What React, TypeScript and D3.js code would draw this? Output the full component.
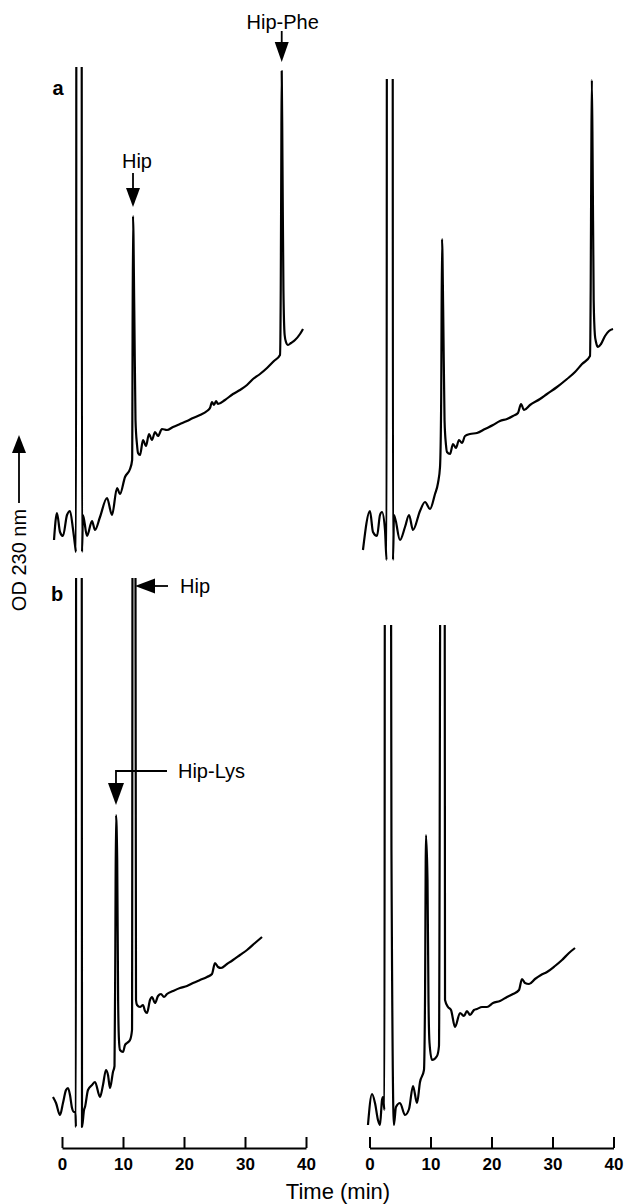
import React from "react";
import * as d3 from "d3";

// ---- Data: time (min), OD 230 nm (AU) ----
const traceALeft: [number, number][] = [
  [-1.31, 0.02], [-0.82, 0.047], [-0.33, 0.028], [0.16, 0.024], [0.82, 0.045], [1.31, 0.049], [1.8, 0.031], [2.13, 0.015],
  [2.3, 0.008], [2.38, 0.8], [3.2, 0.8], [3.28, 0.008], [3.44, 0.045], [4.1, 0.024], [4.92, 0.039], [5.41, 0.03],
  [6.23, 0.043], [7.38, 0.062], [8.2, 0.045], [9.02, 0.072], [9.51, 0.066], [10.33, 0.083], [11.15, 0.091],
  [11.5, 0.1], [11.64, 0.344], [11.85, 0.25], [12.05, 0.14], [12.3, 0.115], [12.46, 0.107], [12.79, 0.105],
  [13.28, 0.12], [13.77, 0.114], [14.26, 0.126], [14.75, 0.12], [15.25, 0.128], [15.74, 0.124], [16.39, 0.131],
  [17.21, 0.13], [18.2, 0.133], [19.34, 0.136], [20.49, 0.139], [21.48, 0.142], [22.62, 0.145], [23.77, 0.149],
  [24.26, 0.152], [24.59, 0.158], [24.92, 0.155], [25.25, 0.159], [25.57, 0.156], [26.72, 0.16], [28.03, 0.166],
  [29.18, 0.17], [30.33, 0.175], [31.31, 0.181], [32.46, 0.186], [33.61, 0.192], [34.75, 0.199], [35.74, 0.205],
  [35.86, 0.27], [35.95, 0.4], [36.02, 0.489], [36.14, 0.4], [36.3, 0.27], [36.5, 0.225], [36.72, 0.218], [37.05, 0.215],
  [37.54, 0.217], [38.2, 0.22], [39.02, 0.226], [39.51, 0.231],
];

const traceARight: [number, number][] = [
  [-1.07, 0.01], [0.08, 0.049], [0.57, 0.028], [1.23, 0.024], [1.72, 0.045], [2.05, 0.048], [2.54, 0.03],
  [2.8, 0.0], [2.87, 0.8], [3.78, 0.8], [3.85, 0.0], [4.02, 0.045], [5.0, 0.02], [5.82, 0.033], [6.48, 0.045],
  [7.13, 0.03], [8.28, 0.049], [9.1, 0.058], [9.92, 0.051], [10.74, 0.066], [11.23, 0.077], [11.56, 0.093],
  [11.75, 0.16], [11.89, 0.321], [12.08, 0.25], [12.3, 0.14], [12.54, 0.115], [12.7, 0.108], [13.2, 0.106],
  [13.69, 0.116], [14.18, 0.112], [14.67, 0.12], [15.16, 0.117], [15.66, 0.124], [16.48, 0.126], [17.62, 0.127],
  [18.93, 0.131], [20.25, 0.135], [21.39, 0.139], [22.54, 0.141], [23.52, 0.144], [24.34, 0.147], [24.84, 0.156],
  [25.33, 0.15], [26.31, 0.155], [27.95, 0.161], [29.1, 0.166], [30.74, 0.173], [32.38, 0.181], [33.69, 0.188],
  [34.84, 0.196], [36.15, 0.204], [36.26, 0.27], [36.36, 0.4], [36.45, 0.48], [36.58, 0.4], [36.75, 0.26],
  [36.95, 0.225], [37.13, 0.218], [37.46, 0.213], [37.95, 0.216], [38.61, 0.224], [39.26, 0.229], [39.92, 0.231],
];

const traceBLeft: [number, number][] = [
  [-1.48, 0.033], [-0.98, 0.027], [-0.33, 0.015], [0.16, 0.027], [0.66, 0.04], [0.98, 0.042], [1.31, 0.035],
  [1.64, 0.022], [1.97, 0.018], [2.21, 0.018], [2.28, 0.003], [2.32, 0.8], [3.22, 0.8], [3.28, 0.003],
  [3.61, 0.02], [3.77, 0.023], [4.26, 0.04], [4.92, 0.045], [5.41, 0.048], [6.23, 0.033], [6.72, 0.045],
  [7.21, 0.06], [7.54, 0.055], [7.87, 0.042], [8.36, 0.058], [8.61, 0.064], [8.74, 0.18], [8.85, 0.315],
  [9.05, 0.27], [9.2, 0.13], [9.34, 0.09], [9.51, 0.08], [10.0, 0.078], [10.33, 0.085], [10.66, 0.087],
  [11.15, 0.09], [11.48, 0.1], [11.6, 0.8], [12.0, 0.8], [12.13, 0.13], [12.3, 0.125], [12.79, 0.123],
  [13.28, 0.125], [13.61, 0.119], [13.93, 0.117], [14.43, 0.13], [14.75, 0.133], [15.25, 0.127], [15.74, 0.134],
  [16.23, 0.136], [16.72, 0.133], [17.21, 0.136], [18.2, 0.139], [19.34, 0.142], [20.49, 0.144], [21.48, 0.147],
  [22.62, 0.15], [23.77, 0.153], [24.59, 0.156], [25.08, 0.167], [25.57, 0.163], [26.07, 0.162], [27.05, 0.166],
  [28.03, 0.17], [29.18, 0.175], [30.33, 0.18], [31.64, 0.187], [32.79, 0.193],
];

const traceBRight: [number, number][] = [
  [-0.25, 0.005], [0.41, 0.036], [0.9, 0.027], [1.39, 0.01], [1.72, 0.005], [2.05, 0.03], [2.21, 0.033],
  [2.45, 0.02], [2.54, 0.8], [3.46, 0.8], [3.6, 0.28], [4.0, 0.005], [4.34, 0.023], [5.0, 0.027], [5.82, 0.015],
  [6.48, 0.021], [7.13, 0.044], [7.79, 0.027], [8.28, 0.048], [8.93, 0.06], [9.1, 0.13], [9.26, 0.295],
  [9.51, 0.25], [9.67, 0.13], [9.84, 0.087], [10.25, 0.07], [11.07, 0.074], [11.39, 0.084], [11.72, 0.8],
  [12.3, 0.8], [12.38, 0.13], [12.87, 0.123], [13.36, 0.12], [14.02, 0.103], [14.84, 0.117], [15.49, 0.114],
  [15.98, 0.119], [16.48, 0.115], [17.13, 0.12], [17.62, 0.121], [18.44, 0.123], [19.26, 0.123], [20.25, 0.127],
  [21.39, 0.129], [22.54, 0.133], [23.52, 0.136], [24.51, 0.14], [25.0, 0.151], [25.49, 0.147], [26.15, 0.146],
  [27.13, 0.151], [28.11, 0.155], [29.1, 0.158], [30.41, 0.164], [31.56, 0.17], [32.7, 0.177], [33.69, 0.182],
];

const timeTicks = [0, 10, 20, 30, 40];
const timeDomain: [number, number] = [0, 40];
const odDomainA: [number, number] = [0, 0.5];
const odDomainB: [number, number] = [0, 0.55];
// recorder pen limit (top of trace) per panel, AU
const penLimitA = [0.493, 0.481];
const penLimitB = [0.552, 0.505];

const FONT = "'Liberation Sans', Arial, Helvetica, sans-serif";

export default function App() {
  const xL = d3.scaleLinear().domain(timeDomain).range([62, 306]);
  const xR = d3.scaleLinear().domain(timeDomain).range([369.5, 613.5]);
  const yA = d3.scaleLinear().domain(odDomainA).range([560, 60]);
  const yB = d3.scaleLinear().domain(odDomainB).range([1130, 580]);

  const panels = [
    { id: "aL", x: xL, y: yA, data: traceALeft, limit: penLimitA[0] },
    { id: "aR", x: xR, y: yA, data: traceARight, limit: penLimitA[1] },
    { id: "bL", x: xL, y: yB, data: traceBLeft, limit: penLimitB[0] },
    { id: "bR", x: xR, y: yB, data: traceBRight, limit: penLimitB[1] },
  ];

  const axisRef = React.useRef<SVGGElement>(null);
  React.useEffect(() => {
    const g = d3.select(axisRef.current);
    g.selectAll("*").remove();
    [xL, xR].forEach((sc) => {
      const ax = d3
        .axisBottom(sc)
        .tickValues(timeTicks)
        .tickFormat(d3.format("d"))
        .tickSizeInner(-11)
        .tickSizeOuter(0)
        .tickPadding(10);
      const gg = g.append("g").attr("transform", "translate(0,1148)").call(ax);
      gg.select(".domain").attr("stroke", "#000").attr("stroke-width", 2);
      gg.selectAll(".tick line").attr("stroke", "#000").attr("stroke-width", 2);
      gg.selectAll(".tick text")
        .attr("font-family", FONT)
        .attr("font-size", 17)
        .attr("font-weight", "bold")
        .attr("fill", "#000");
    });
  }, []);

  const line = (x: d3.ScaleLinear<number, number>, y: d3.ScaleLinear<number, number>) =>
    d3
      .line<[number, number]>()
      .x((d) => x(d[0]))
      .y((d) => y(d[1]))
      .curve(d3.curveMonotoneX);

  // annotation anchors (data coords)
  const hipPheTip = { x: xL(36.02), y: yA(0.498) };
  const hipATip = { x: xL(11.64), y: yA(0.353) };
  const hipBTip = { x: xL(11.97), y: yB(0.544) };
  const hipLysTip = { x: xL(8.85), y: yB(0.325) };

  return (
    <svg
      width={625}
      height={1204}
      style={{ position: "absolute", left: 0, top: 0, background: "#fff" }}
      fontFamily={FONT}
    >
      <rect x={0} y={0} width={625} height={1204} fill="#fff" />
      <defs>
        {panels.map((p) => (
          <clipPath id={`clip-${p.id}`} key={p.id}>
            <rect x={p.x.range()[0] - 20} y={p.y(p.limit)} width={270} height={1204 - p.y(p.limit)} />
          </clipPath>
        ))}
      </defs>

      {panels.map((p) => (
        <path
          key={p.id}
          d={line(p.x, p.y)(p.data) || ""}
          fill="none"
          stroke="#000"
          strokeWidth={2.2}
          strokeLinejoin="round"
          clipPath={`url(#clip-${p.id})`}
        />
      ))}

      {/* panel letters */}
      <text x={58} y={95} fontSize={20} fontWeight="900" textAnchor="middle">a</text>
      <text x={57} y={601} fontSize={20} fontWeight="900" textAnchor="middle">b</text>

      {/* Hip-Phe (a) */}
      <text x={hipPheTip.x + 1} y={hipPheTip.y - 33} fontSize={20} textAnchor="middle">Hip-Phe</text>
      <line x1={hipPheTip.x} x2={hipPheTip.x} y1={hipPheTip.y - 31} y2={hipPheTip.y - 19} stroke="#000" strokeWidth={1.8} />
      <polygon
        points={`${hipPheTip.x},${hipPheTip.y} ${hipPheTip.x - 7},${hipPheTip.y - 20} ${hipPheTip.x + 7},${hipPheTip.y - 20}`}
        fill="#000"
      />

      {/* Hip (a) */}
      <text x={hipATip.x + 4} y={hipATip.y - 39} fontSize={20} textAnchor="middle">Hip</text>
      <line x1={hipATip.x} x2={hipATip.x} y1={hipATip.y - 34} y2={hipATip.y - 17} stroke="#000" strokeWidth={1.8} />
      <polygon
        points={`${hipATip.x},${hipATip.y} ${hipATip.x - 7},${hipATip.y - 19} ${hipATip.x + 7},${hipATip.y - 19}`}
        fill="#000"
      />

      {/* Hip (b) */}
      <polygon
        points={`${hipBTip.x},${hipBTip.y} ${hipBTip.x + 20},${hipBTip.y - 7.5} ${hipBTip.x + 20},${hipBTip.y + 7.5}`}
        fill="#000"
      />
      <line x1={hipBTip.x + 18} x2={hipBTip.x + 33} y1={hipBTip.y} y2={hipBTip.y} stroke="#000" strokeWidth={1.8} />
      <text x={hipBTip.x + 45} y={hipBTip.y + 7} fontSize={20}>Hip</text>

      {/* Hip-Lys (b) */}
      <polygon
        points={`${hipLysTip.x},${hipLysTip.y} ${hipLysTip.x - 8},${hipLysTip.y - 22} ${hipLysTip.x + 8},${hipLysTip.y - 22}`}
        fill="#000"
      />
      <polyline
        points={`${hipLysTip.x},${hipLysTip.y - 20} ${hipLysTip.x},${hipLysTip.y - 34} ${hipLysTip.x + 51},${hipLysTip.y - 34}`}
        fill="none"
        stroke="#000"
        strokeWidth={1.8}
      />
      <text x={hipLysTip.x + 62} y={hipLysTip.y - 27} fontSize={20}>Hip-Lys</text>

      {/* y label */}
      <text transform="translate(26,560) rotate(-90)" fontSize={20} textAnchor="middle">OD 230 nm</text>
      <line x1={19} x2={19} y1={503} y2={450} stroke="#000" strokeWidth={1.8} />
      <polygon points="19,435 12,453 26,453" fill="#000" />

      {/* x axes */}
      <g ref={axisRef} />
      <text x={338} y={1199} fontSize={22} textAnchor="middle">Time (min)</text>
    </svg>
  );
}
